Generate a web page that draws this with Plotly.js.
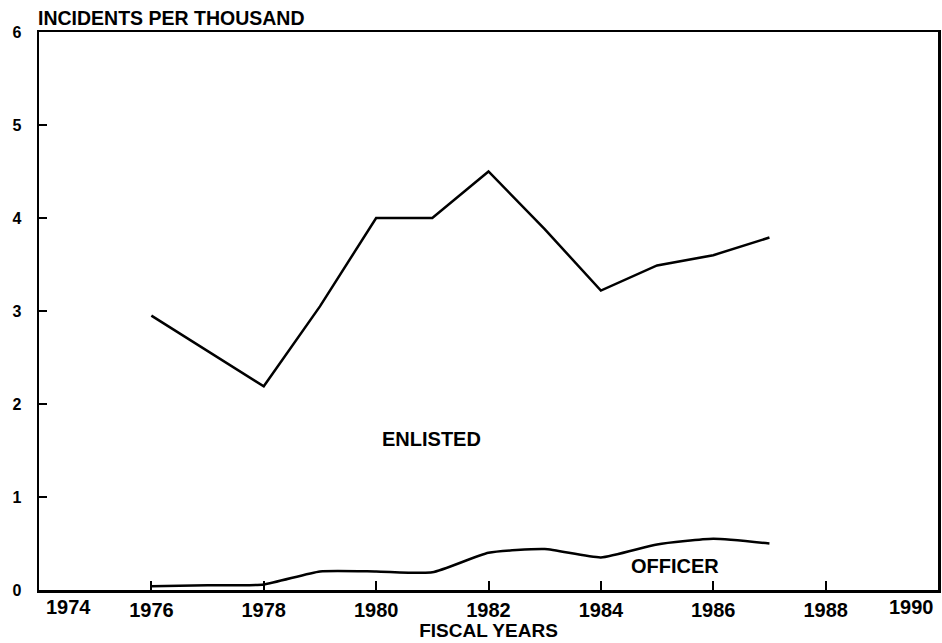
<!DOCTYPE html>
<html>
<head>
<meta charset="utf-8">
<script src="https://cdn.plot.ly/plotly-2.35.2.min.js"></script>
<style>html,body{margin:0;padding:0;background:#fff;}</style>
</head>
<body>
<div id="chart" style="width:942px;height:643px;"></div>
<script>
const years = [1976, 1977, 1978, 1979, 1980, 1981, 1982, 1983, 1984, 1985, 1986, 1987];
const enlisted = [2.95, null, 2.19, 3.05, 4.0, 4.0, 4.5, 3.88, 3.22, 3.49, 3.6, 3.79];
const officer = [0.04, 0.05, 0.06, 0.2, 0.2, 0.19, 0.4, 0.44, 0.35, 0.49, 0.55, 0.5];
const xTicks = [1976, 1978, 1980, 1982, 1984, 1986, 1988, 1990];
const edgeLabels = ['1974', '1990'];
const edgeLabelPos = [1974.53, 1989.52];
const yTicks = [0, 1, 2, 3, 4, 5, 6];
const seriesLabels = ['ENLISTED', 'OFFICER'];
const seriesLabelPos = [[1980.99, 1.62], [1985.32, 0.26]];

const FONT = 'Liberation Sans, Arial, sans-serif';

const traces = [
  {x: years, y: enlisted, type: 'scatter', mode: 'lines', connectgaps: true,
   line: {color: '#000', width: 2.5}, hoverinfo: 'skip'},
  {x: years, y: officer, type: 'scatter', mode: 'lines',
   line: {color: '#000', width: 2.5, shape: 'spline', smoothing: 0.5}, hoverinfo: 'skip'}
];

const annotations = [];
edgeLabels.forEach((t, i) => annotations.push({
  text: '<b>' + t + '</b>', x: edgeLabelPos[i], xref: 'x', y: 0, yref: 'paper',
  yanchor: 'middle', yshift: -17, showarrow: false,
  font: {family: FONT, size: 20, color: '#000'}
}));
seriesLabels.forEach((t, i) => annotations.push({
  text: '<b>' + t + '</b>', x: seriesLabelPos[i][0], y: seriesLabelPos[i][1],
  xref: 'x', yref: 'y', showarrow: false,
  font: {family: FONT, size: 20, color: '#000'}
}));

const layout = {
  width: 942, height: 643,
  margin: {l: 39, r: 4, t: 32, b: 53},
  paper_bgcolor: '#fff', plot_bgcolor: '#fff',
  showlegend: false,
  title: {text: '<b>INCIDENTS PER THOUSAND</b>', x: 38/942, xanchor: 'left', xref: 'container',
          y: 1 - 18/643, yanchor: 'middle', yref: 'container',
          font: {family: FONT, size: 19.5, color: '#000'}},
  xaxis: {
    range: [1974, 1990], tickmode: 'array', tickvals: xTicks,
    ticktext: xTicks.map(v => v === 1990 ? '' : '<b>' + v + '</b>'),
    ticks: 'inside', ticklen: 9, tickwidth: 2, tickcolor: '#000',
    showline: true, linecolor: '#000', linewidth: 2.5, mirror: true,
    showgrid: false, zeroline: false,
    tickfont: {family: FONT, size: 20, color: '#000'},
    title: {text: '<b>FISCAL YEARS</b>', standoff: 3, font: {family: FONT, size: 19, color: '#000'}}
  },
  yaxis: {
    range: [0, 6], tickmode: 'array', tickvals: yTicks,
    ticktext: yTicks.map(v => '<b>' + v + '</b>'),
    ticks: 'inside', ticklen: 8, tickwidth: 2, tickcolor: '#000',
    showline: true, linecolor: '#000', linewidth: 2.5, mirror: true,
    showgrid: false, zeroline: false, ticklabelstandoff: 12,
    tickfont: {family: FONT, size: 16, color: '#000'}
  },
  annotations: annotations
};

Plotly.newPlot('chart', traces, layout, {staticPlot: true, displayModeBar: false});
</script>
</body>
</html>
